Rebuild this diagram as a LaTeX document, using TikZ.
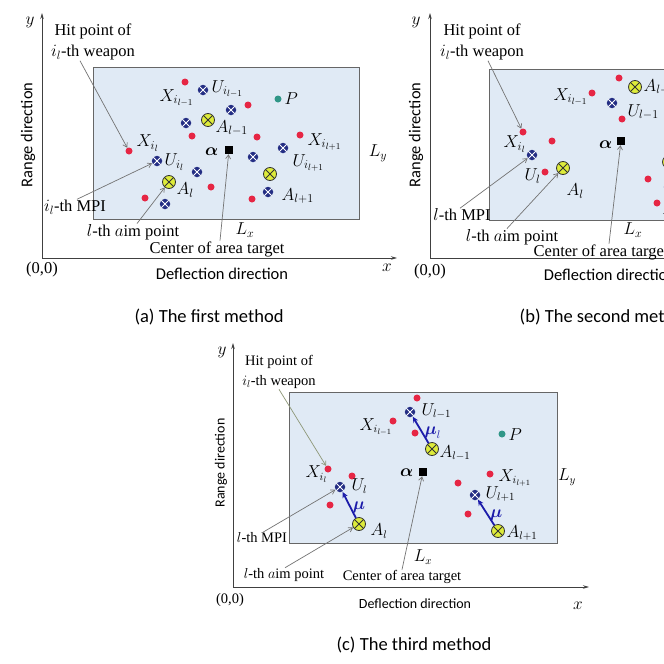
\documentclass[tikz,border=0pt]{standalone}
\usepackage{fontspec}
\setmainfont{Liberation Serif}
\newfontfamily\calibri{Carlito}
\usepackage{amsmath}
\usetikzlibrary{arrows.meta}

\definecolor{planeblue}{RGB}{224,234,245}
\definecolor{hitred}{RGB}{230,38,68}
\definecolor{mpiblue}{RGB}{36,46,132}
\definecolor{aimyellow}{RGB}{222,236,58}
\definecolor{pteal}{RGB}{48,150,135}
\definecolor{mublue}{RGB}{28,28,170}
\definecolor{olivegray}{RGB}{140,150,118}

\begin{document}
\begin{tikzpicture}[
    x=1pt, y=-1pt,
    every node/.style={inner sep=0.5pt},
    lab/.style={font=\fontsize{17.5}{17.5}\selectfont},
    labc/.style={font=\fontsize{16}{16}\selectfont},
    txt/.style={font=\fontsize{16.5}{21}\selectfont, align=center},
    txtc/.style={font=\fontsize{14.5}{20}\selectfont, align=center},
    axislab/.style={font=\calibri\fontsize{16.5}{16.5}\selectfont},
    axislabc/.style={font=\calibri\fontsize{14}{14}\selectfont},
    caption/.style={font=\calibri\fontsize{18.5}{18.5}\selectfont},
    axline/.style={draw=black!75, line width=0.8pt, -{Stealth[length=6pt,width=3.5pt]}},
    area/.style={fill=planeblue, draw=black!60, line width=0.9pt},
    hit/.style={circle, fill=hitred, minimum size=7pt, inner sep=0pt},
    mpi/.style={circle, fill=mpiblue, minimum size=10.5pt, inner sep=0pt,
        path picture={\draw[white, line width=0.8pt]
            (path picture bounding box.north west) -- (path picture bounding box.south east)
            (path picture bounding box.south west) -- (path picture bounding box.north east);}},
    aim/.style={circle, fill=aimyellow, draw=black!80, line width=0.8pt, minimum size=13pt, inner sep=0pt,
        path picture={\draw[black!80, line width=0.8pt]
            (path picture bounding box.north west) -- (path picture bounding box.south east)
            (path picture bounding box.south west) -- (path picture bounding box.north east);}},
    tgt/.style={fill=black, minimum size=8pt, inner sep=0pt},
    pdot/.style={circle, fill=pteal, minimum size=7pt, inner sep=0pt},
    pointer/.style={draw=black!55, line width=0.7pt, -{Straight Barb[length=4pt,width=5pt]}},
    mu/.style={draw=mublue, line width=1.8pt, -{Stealth[length=6pt,width=5.5pt]}},
    mulab/.style={text=mublue, font=\fontsize{16}{16}\selectfont}
]
\clip (0,0) rectangle (664,664);
\fill[white] (0,0) rectangle (664,664);

% (a) osy a plocha
\draw[area] (93,67) rectangle (359,219);
\coordinate (aO) at (42,258);
\coordinate (aYe) at (42,13);
\coordinate (aXe) at (397,258);
\draw[axline] (aO) -- (aYe);
\draw[axline] (aO) -- (aXe);
\node[lab] (ay) at (30,22) {$y$};
\node[lab] (ax) at (387,268) {$x$};
\node[txt] (a00) at (42,270) {(0,0)};
\node[axislab] (adefl) at (222,274) {Deflection direction};
\node[axislab, rotate=90] (arange) at (28,135) {Range direction};
\node[lab] (aLx) at (245,230) {$L_x$};
\node[lab] (aLy) at (378,153) {$L_y$};

% (a) body
\node[hit] (aX) at (129,151) {};
\foreach \p [count=\i] in {(185,82),(248,105),(192,136),(257,137),(300,135),(211,187),(145,198),(252,199)}
    \node[hit] (ar\i) at \p {};
\node[mpi] (aU) at (157,161) {};
\foreach \p [count=\i] in {(203,90),(231,110),(186,123),(283,148),(253,157),(197,172),(268,192),(165,204)}
    \node[mpi] (ab\i) at \p {};
\node[aim] (aA) at (169,182) {};
\node[aim] (aA1) at (208,120) {};
\node[aim] (aA2) at (270,174) {};
\node[pdot] (aP) at (278,99) {};
\node[tgt] (aC) at (229,150) {};

% (a) popisky
\node[lab, anchor=west] (aXl) at (136,143) {$X_{i_l}$};
\node[lab, anchor=west] (aUl) at (164,162) {$U_{i_l}$};
\node[lab, anchor=west] (aAl) at (176,190) {$A_l$};
\node[lab, anchor=west] (aXl1) at (159,98) {$X_{i_{l-1}}$};
\node[lab, anchor=west] (aUl1) at (211,89) {$U_{i_{l-1}}$};
\node[lab, anchor=west] (aAl1) at (215,128) {$A_{l-1}$};
\node[lab, anchor=west] (aXl2) at (307,142) {$X_{i_{l+1}}$};
\node[lab, anchor=west] (aUl2) at (292,163) {$U_{i_{l+1}}$};
\node[lab, anchor=west] (aAl2) at (281,196) {$A_{l+1}$};
\node[lab, anchor=west] (aPl) at (284,99) {$P$};
\node[lab, anchor=east] (aal) at (219,152) {$\boldsymbol{\alpha}$};
\node[txt] (aHit) at (93,42) {Hit point of\\$i_l$-th weapon};
\node[txt] (aMPI) at (75,207) {$i_l$-th MPI};
\node[txt] (aAim) at (133,232) {$l$-th $a$im point};
\node[txt] (aCt) at (217,249) {Center of area target};
\draw[pointer] ([xshift=-13pt]aHit.south) -- (aX);
\draw[pointer] ([xshift=2pt]aMPI.north) -- (aU);
\draw[pointer] ([xshift=4pt]aAim.north) -- (aA);
\draw[pointer] ([xshift=3pt]aCt.north) -- (aC);
\node[caption] (acap) at (209,317) {(a) The first method};

% (b) osy a plocha
\draw[area] (489,69) rectangle (755,220);
\coordinate (bO) at (430,258);
\coordinate (bYe) at (430,13);
\coordinate (bXe) at (785,258);
\draw[axline] (bO) -- (bYe);
\draw[axline] (bO) -- (bXe);
\node[lab] (by) at (416,22) {$y$};
\node[txt] (b00) at (430,272) {(0,0)};
\node[axislab] (bdefl) at (610,275) {Deflection direction};
\node[axislab, rotate=90] (brange) at (416,135) {Range direction};
\node[lab] (bLx) at (633,230) {$L_x$};

% (b) body
\node[hit] (bX) at (523,132) {};
\foreach \p [count=\i] in {(552,141),(545,172),(619,78),(592,93),(622,119),(648,179),(657,203)}
    \node[hit] (br\i) at \p {};
\node[mpi] (bU) at (532,155) {};
\node[mpi] (bU1) at (612,103) {};
\node[mpi] (bU2) at (669,187) {};
\node[aim] (bA) at (563,168) {};
\node[aim] (bA1) at (635,87) {};
\node[aim] (bA2) at (669,162) {};
\node[tgt] (bC) at (621,141) {};

% (b) popisky
\node[lab, anchor=west] (bXl) at (503,144) {$X_{i_l}$};
\node[lab, anchor=west] (bUl) at (524,176) {$U_l$};
\node[lab, anchor=west] (bAl) at (566,191) {$A_l$};
\node[lab, anchor=west] (bXl1) at (553,97) {$X_{i_{l-1}}$};
\node[lab, anchor=west] (bUl1) at (627,112) {$U_{l-1}$};
\node[lab, anchor=west] (bAl1) at (643,87) {$A_{l-1}$};
\node[lab, anchor=west] (bAl2) at (662,210) {$A_{l+1}$};
\node[lab, anchor=east] (bal) at (613,145) {$\boldsymbol{\alpha}$};
\node[txt] (bHit) at (482,42) {Hit point of\\$i_l$-th weapon};
\node[txt] (bMPI) at (462,215) {$l$-th MPI};
\node[txt] (bAim) at (512,237) {$l$-th $a$im point};
\node[txt, anchor=west] (bCt) at (533,252) {Center of area target};
\draw[pointer] ([xshift=6pt]bHit.south) -- (bX);
\draw[pointer] ([xshift=-2pt]bMPI.north) -- (bU);
\draw[pointer] ([xshift=-5pt]bAim.north) -- (bA);
\draw[pointer] ([xshift=76pt]bCt.north west) -- (bC);
\node[caption, anchor=west] (bcap) at (519,317) {(b) The second method};

% (c) osy a plocha
\draw[area] (289,392) rectangle (557,543);
\coordinate (cO) at (233,587);
\coordinate (cYe) at (233,343);
\coordinate (cXe) at (589,587);
\draw[axline] (cO) -- (cYe);
\draw[axline] (cO) -- (cXe);
\node[labc] (cy) at (222,352) {$y$};
\node[labc] (cx) at (578,606) {$x$};
\node[txtc] (c00) at (230,600) {(0,0)};
\node[axislabc] (cdefl) at (415,604) {Deflection direction};
\node[axislabc, rotate=90] (crange) at (221,463) {Range direction};
\node[labc] (cLx) at (423,557) {$L_x$};
\node[labc] (cLy) at (567,477) {$L_y$};

% (c) body
\node[hit] (cX) at (328,469) {};
\foreach \p [count=\i] in {(352,476),(330,505),(417,398),(393,421),(415,433),(490,474),(458,483),(468,514)}
    \node[hit] (cr\i) at \p {};
\node[mpi] (cU) at (340,487) {};
\node[mpi] (cU1) at (410,412) {};
\node[mpi] (cU2) at (475,495) {};
\node[aim] (cA) at (359,524) {};
\node[aim] (cA1) at (432,449) {};
\node[aim] (cA2) at (498,531) {};
\node[pdot] (cP) at (502,434) {};
\node[tgt] (cC) at (423,472) {};

% posun mu
\draw[mu] (cA) -- node[mulab, right=1pt, pos=0.4] {$\boldsymbol{\mu}$} (cU);
\draw[mu] (cA1) -- node[mulab, right=1pt, pos=0.4] {$\boldsymbol{\mu}_l$} (cU1);
\draw[mu] (cA2) -- node[mulab, right=1pt, pos=0.4] {$\boldsymbol{\mu}$} (cU2);

% (c) popisky
\node[labc, anchor=west] (cXl) at (305,474) {$X_{i_l}$};
\node[labc, anchor=west] (cUl) at (351,486) {$U_l$};
\node[labc, anchor=west] (cAl) at (370,531) {$A_l$};
\node[labc, anchor=west] (cXl1) at (359,427) {$X_{i_{l-1}}$};
\node[labc, anchor=west] (cUl1) at (421,411) {$U_{l-1}$};
\node[labc, anchor=west] (cAl1) at (439,453) {$A_{l-1}$};
\node[labc, anchor=west] (cXl2) at (498,478) {$X_{i_{l+1}}$};
\node[labc, anchor=west] (cUl2) at (485,494) {$U_{l+1}$};
\node[labc, anchor=west] (cAl2) at (506,533) {$A_{l+1}$};
\node[labc, anchor=west] (cPl) at (508,435) {$P$};
\node[labc, anchor=east] (cal) at (414,473) {$\boldsymbol{\alpha}$};
\node[txtc] (cHit) at (279,372) {Hit point of\\$i_l$-th weapon};
\node[txtc] (cMPI) at (262,538) {$l$-th MPI};
\node[txtc] (cAim) at (284,575) {$l$-th $a$im point};
\node[txtc] (cCt) at (402,577) {Center of area target};
\draw[pointer, draw=olivegray] (cHit.south) -- (cX);
\draw[pointer] ([xshift=1pt]cMPI.north) -- (cU);
\draw[pointer] ([xshift=1pt]cAim.north) -- (cA);
\draw[pointer] (cCt.north) -- (cC);
\node[caption] (ccap) at (414,645) {(c) The third method};

\end{tikzpicture}
\end{document}
